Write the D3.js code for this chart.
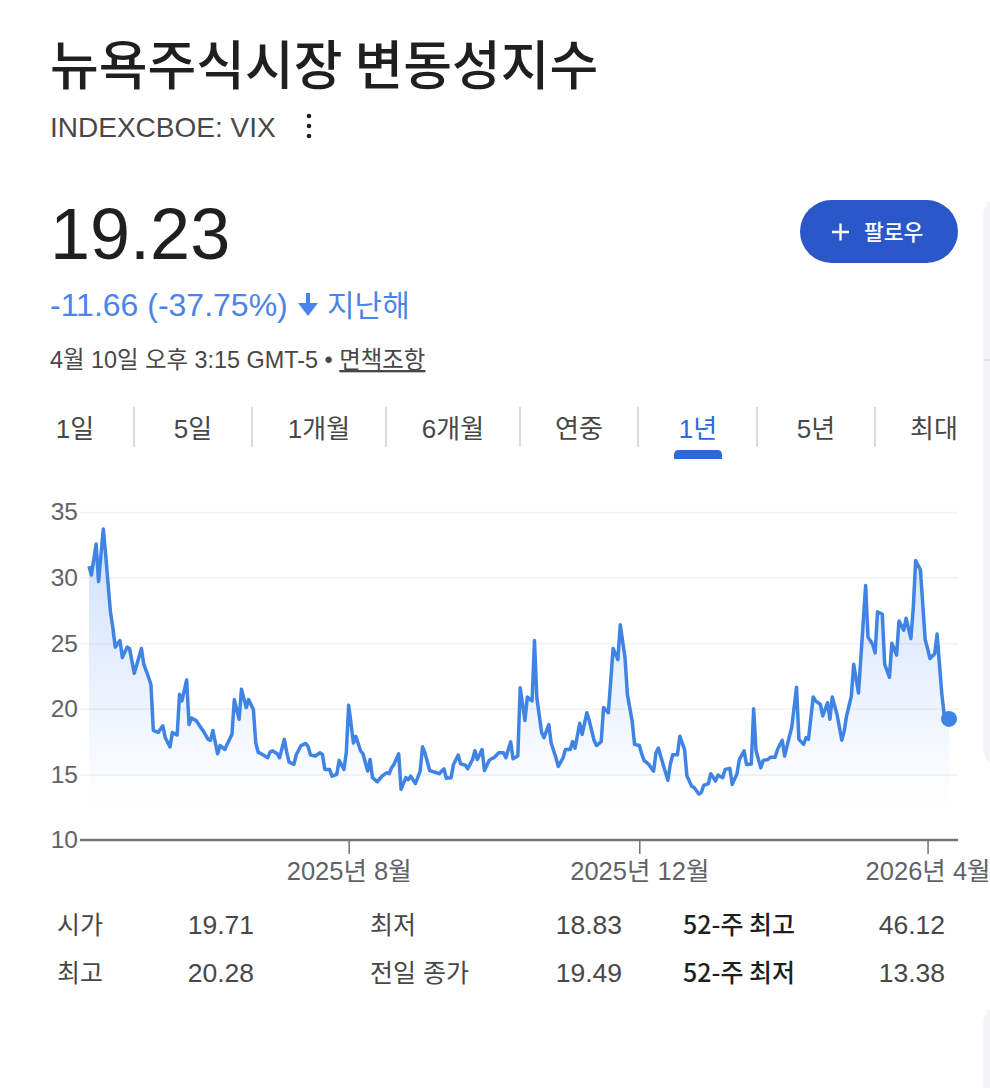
<!DOCTYPE html>
<html>
<head>
<meta charset="utf-8">
<script src="https://cdn.jsdelivr.net/npm/d3@7"></script>
<style>
  html, body { margin: 0; padding: 0; background: #fff; }
  svg { display: block; }
  text { font-family: "Liberation Sans", Arial, "Noto Sans CJK KR", sans-serif; }
</style>
</head>
<body>
<div id="chart"></div>
<script>
// 날짜 (x축)
const dates = [
  "2025-04-14","2025-04-15","2025-04-17","2025-04-18","2025-04-20","2025-04-21","2025-04-22","2025-04-23","2025-04-24","2025-04-25","2025-04-27","2025-04-28","2025-04-30",
  "2025-05-01","2025-05-03","2025-05-06","2025-05-07","2025-05-09","2025-05-10","2025-05-11","2025-05-13","2025-05-15","2025-05-16","2025-05-18","2025-05-19","2025-05-21","2025-05-22","2025-05-23","2025-05-25","2025-05-26","2025-05-27","2025-05-29","2025-05-31",
  "2025-06-01","2025-06-03","2025-06-04","2025-06-05","2025-06-07","2025-06-08","2025-06-10","2025-06-11","2025-06-13","2025-06-14","2025-06-16","2025-06-17","2025-06-19","2025-06-20","2025-06-22","2025-06-23","2025-06-24","2025-06-26","2025-06-28","2025-06-29","2025-06-30",
  "2025-07-02","2025-07-03","2025-07-05","2025-07-06","2025-07-07","2025-07-09","2025-07-10","2025-07-12","2025-07-14","2025-07-15","2025-07-16","2025-07-18","2025-07-20","2025-07-21","2025-07-22","2025-07-24","2025-07-25","2025-07-27","2025-07-28","2025-07-30","2025-07-31",
  "2025-08-01","2025-08-03","2025-08-04","2025-08-06","2025-08-07","2025-08-09","2025-08-10","2025-08-11","2025-08-13","2025-08-15","2025-08-17","2025-08-18","2025-08-19","2025-08-20","2025-08-22","2025-08-23","2025-08-25","2025-08-26","2025-08-27","2025-08-29","2025-08-31",
  "2025-09-01","2025-09-02","2025-09-04","2025-09-06","2025-09-07","2025-09-08","2025-09-10","2025-09-11","2025-09-13","2025-09-14","2025-09-16","2025-09-17","2025-09-19","2025-09-20","2025-09-22","2025-09-23","2025-09-24","2025-09-26","2025-09-27","2025-09-29","2025-09-30",
  "2025-10-01","2025-10-03","2025-10-05","2025-10-06","2025-10-08","2025-10-09","2025-10-11","2025-10-12","2025-10-14","2025-10-15","2025-10-17","2025-10-18","2025-10-19","2025-10-21","2025-10-22","2025-10-24","2025-10-25","2025-10-27","2025-10-28","2025-10-30","2025-10-31",
  "2025-11-02","2025-11-03","2025-11-04","2025-11-06","2025-11-07","2025-11-09","2025-11-10","2025-11-12","2025-11-13","2025-11-15","2025-11-16","2025-11-18","2025-11-19","2025-11-20","2025-11-22","2025-11-23","2025-11-25","2025-11-26","2025-11-28","2025-11-29",
  "2025-12-01","2025-12-02","2025-12-03","2025-12-05","2025-12-07","2025-12-08","2025-12-09","2025-12-11","2025-12-13","2025-12-14","2025-12-15","2025-12-17","2025-12-18","2025-12-20","2025-12-21","2025-12-23","2025-12-24","2025-12-26","2025-12-27","2025-12-28","2025-12-30","2025-12-31",
  "2026-01-02","2026-01-03","2026-01-05","2026-01-06","2026-01-08","2026-01-09","2026-01-11","2026-01-12","2026-01-14","2026-01-15","2026-01-17","2026-01-18","2026-01-19","2026-01-21","2026-01-22","2026-01-24","2026-01-25","2026-01-27","2026-01-28","2026-01-30","2026-01-31",
  "2026-02-02","2026-02-03","2026-02-05","2026-02-06","2026-02-08","2026-02-09","2026-02-10","2026-02-12","2026-02-13","2026-02-15","2026-02-16","2026-02-18","2026-02-19","2026-02-20","2026-02-22","2026-02-24","2026-02-25","2026-02-26","2026-02-28",
  "2026-03-01","2026-03-03","2026-03-04","2026-03-06","2026-03-07","2026-03-09","2026-03-10","2026-03-11","2026-03-13","2026-03-14","2026-03-16","2026-03-17","2026-03-19","2026-03-20","2026-03-22","2026-03-23","2026-03-25","2026-03-26","2026-03-27","2026-03-29","2026-03-31",
  "2026-04-01","2026-04-02","2026-04-04","2026-04-05","2026-04-07","2026-04-08","2026-04-10"
];
// VIX 값
const vix = [
  30.86,30.2,32.56,29.7,33.7,31.75,29.5,27.4,26.2,24.7,25.2,23.9,24.7,
  24.6,22.7,24.6,23.4,22.4,21.85,18.35,18.2,18.7,17.8,17.1,18.2,18.0,21.1,20.6,22.2,18.8,19.3,19.1,18.55,
  18.3,17.67,17.6,18.35,16.57,17.2,16.9,17.3,18.05,20.7,19.2,21.5,20.1,20.7,19.95,17.4,16.7,16.5,16.27,16.7,16.8,
  16.57,16.27,17.67,16.7,15.94,15.76,16.5,17.2,17.36,17.1,16.47,16.4,16.65,16.5,15.38,15.38,14.87,15.0,16.07,15.38,16.65,
  20.28,17.4,17.9,16.8,16.57,15.25,16.14,14.75,14.44,14.87,15.13,15.05,15.5,15.76,16.57,13.86,14.75,14.6,14.87,14.3,15.25,
  17.1,16.65,15.3,15.18,15.13,15.05,15.43,14.7,14.75,15.76,16.47,15.8,15.7,15.43,16.14,16.8,16.14,16.9,15.3,16.07,16.2,
  16.27,16.65,16.65,16.27,17.48,16.2,16.4,21.6,19.1,20.9,20.6,25.2,20.8,18.2,17.8,18.8,17.4,16.27,15.6,16.27,16.9,
  16.9,17.5,17.0,18.9,18.05,19.7,19.1,17.6,17.2,17.5,20.1,19.7,22.1,24.6,23.75,26.4,23.9,21.1,19.06,17.3,
  17.2,16.57,16.07,15.76,15.25,16.65,17.0,15.76,14.55,15.76,16.5,16.5,17.9,16.9,14.87,14.1,14.0,13.5,13.6,14.16,14.3,15.05,
  14.5,14.95,14.75,15.38,15.46,14.24,15.05,16.14,16.8,15.76,15.8,20.0,16.8,15.5,16.07,16.14,16.3,16.3,16.9,17.6,16.4,
  17.9,18.6,21.65,17.67,17.3,17.8,17.67,20.9,20.6,20.33,19.45,20.46,19.2,20.9,19.57,17.6,18.3,19.45,20.96,
  23.4,21.2,23.9,29.4,25.46,24.9,24.26,27.4,27.2,23.4,22.4,25.0,24.1,26.7,26.0,26.9,25.35,27.7,31.3,30.6,25.28,
  24.6,23.83,24.2,25.7,21.1,19.5,19.23
];
const yTicks = [10, 15, 20, 25, 30, 35];
const xTickDates = ["2025-08-01", "2025-12-01", "2026-04-01"];
const xTickLabels = ["2025년 8월", "2025년 12월", "2026년 4월"];
const tabs = ["1일", "5일", "1개월", "6개월", "연중", "1년", "5년", "최대"];
const activeTab = "1년";
const statLabels = [["시가", "최고"], ["최저", "전일 종가"], ["52-주 최고", "52-주 최저"]];
const statValues = [["19.71", "20.28"], ["18.83", "19.49"], ["46.12", "13.38"]];

const W = 990, H = 1088;
const parse = d3.timeParse("%Y-%m-%d");
const data = dates.map((d, i) => ({date: parse(d), value: vix[i]}));

const svg = d3.select("#chart").append("svg").attr("width", W).attr("height", H);

// 오른쪽 가장자리 패널
svg.append("rect").attr("x", 983).attr("y", 192).attr("width", 60).attr("height", 580)
  .attr("rx", 26).attr("fill", "#f3f4f6");
svg.append("line").attr("x1", 984).attr("x2", 990).attr("y1", 360).attr("y2", 360)
  .attr("stroke", "#dadce0").attr("stroke-width", 1.5);
svg.append("rect").attr("x", 983).attr("y", 1000).attr("width", 60).attr("height", 200)
  .attr("rx", 26).attr("fill", "#f3f4f6");

// 제목
svg.append("text").attr("x", 50).attr("y", 85)
  .style("font-family", "'Noto Sans CJK KR', sans-serif")
  .attr("font-size", 53).attr("font-weight", 500).attr("fill", "#1f1f1f")
  .text("뉴욕주식시장 변동성지수");
svg.append("text").attr("x", 50).attr("y", 137)
  .attr("font-size", 28).attr("fill", "#474747").text("INDEXCBOE: VIX");
[116, 126, 136].forEach(cy => {
  svg.append("circle").attr("cx", 309).attr("cy", cy).attr("r", 2.3).attr("fill", "#1f1f1f");
});

// 가격
svg.append("text").attr("x", 50).attr("y", 259)
  .attr("font-size", 72).attr("fill", "#1f1f1f").text("19.23");
const chgColor = "#4a84ea";
svg.append("text").attr("x", 50).attr("y", 316)
  .attr("font-size", 32).attr("fill", chgColor).text("-11.66 (-37.75%)");
svg.append("line").attr("x1", 308).attr("x2", 308).attr("y1", 293).attr("y2", 308)
  .attr("stroke", chgColor).attr("stroke-width", 4);
svg.append("path").attr("d", "M298,303 L318,303 L308,316 Z").attr("fill", chgColor);
svg.append("text").attr("x", 327).attr("y", 316)
  .attr("font-size", 30).attr("fill", chgColor).text("지난해");

const info = svg.append("text").attr("x", 50).attr("y", 368)
  .attr("font-size", 23.4).attr("fill", "#474747");
info.append("tspan").text("4월 10일 오후 3:15 GMT-5 • ");
info.append("tspan").attr("text-decoration", "underline").text("면책조항");

// 팔로우 버튼
svg.append("rect").attr("x", 800).attr("y", 200).attr("width", 158).attr("height", 63)
  .attr("rx", 31.5).attr("fill", "#2a58c8");
svg.append("path").attr("d", "M832,232 L849,232 M840.5,223.5 L840.5,240.5")
  .attr("stroke", "#fff").attr("stroke-width", 2.4);
svg.append("text").attr("x", 864).attr("y", 240)
  .style("font-family", "'Noto Sans CJK KR', sans-serif")
  .attr("font-size", 21.5).attr("font-weight", 500).attr("fill", "#fff").text("팔로우");

// 기간 탭
const tabCenters = [75, 193, 319, 453, 579, 698, 816, 934];
const dividers = [134, 252, 386, 520, 638, 757, 875];
svg.selectAll("text.tab").data(tabs).enter().append("text")
  .attr("class", "tab")
  .attr("x", (d, i) => tabCenters[i]).attr("y", 438)
  .attr("text-anchor", "middle").attr("font-size", 26)
  .attr("fill", d => d === activeTab ? "#2b6ad9" : "#474747")
  .text(d => d);
svg.selectAll("line.div").data(dividers).enter().append("line")
  .attr("class", "div")
  .attr("x1", d => d).attr("x2", d => d).attr("y1", 407).attr("y2", 447)
  .attr("stroke", "#dadce0").attr("stroke-width", 2);
const ai = tabs.indexOf(activeTab);
svg.append("path")
  .attr("d", `M${tabCenters[ai] - 24},459 L${tabCenters[ai] - 24},455 Q${tabCenters[ai] - 24},450 ${tabCenters[ai] - 19},450 L${tabCenters[ai] + 19},450 Q${tabCenters[ai] + 24},450 ${tabCenters[ai] + 24},455 L${tabCenters[ai] + 24},459 Z`)
  .attr("fill", "#2b6ad9");

// 차트
const left = 80, right = 958;
const x = d3.scaleTime()
  .domain([parse("2025-04-14"), parse("2026-04-10")])
  .range([89, 949]);
const y = d3.scaleLinear().domain([10, 35]).range([840, 512]);

const yAxis = svg.append("g").attr("transform", `translate(${left},0)`)
  .call(d3.axisLeft(y).tickValues(yTicks).tickSize(-(right - left)).tickPadding(2));
yAxis.select(".domain").remove();
yAxis.selectAll(".tick line").attr("stroke", "#f1f1f1").attr("stroke-width", 1.5);
yAxis.selectAll(".tick text").attr("font-size", 24.5).attr("fill", "#5f6368")
  .style("font-family", "'Liberation Sans', Arial, sans-serif");

const defs = svg.append("defs");
const grad = defs.append("linearGradient").attr("id", "areaGrad")
  .attr("gradientUnits", "userSpaceOnUse")
  .attr("x1", 0).attr("x2", 0).attr("y1", y(35)).attr("y2", y(12.5));
grad.append("stop").attr("offset", 0).attr("stop-color", "#4285f4").attr("stop-opacity", 0.27);
grad.append("stop").attr("offset", 1).attr("stop-color", "#4285f4").attr("stop-opacity", 0);

const area = d3.area()
  .x(d => x(d.date)).y0(y(10)).y1(d => y(d.value));
svg.append("path").attr("d", area(data)).attr("fill", "url(#areaGrad)");

const xAxis = svg.append("g").attr("transform", `translate(0,${y(10)})`)
  .call(d3.axisBottom(x)
    .tickValues(xTickDates.map(parse))
    .tickFormat((d, i) => xTickLabels[i])
    .tickSize(14).tickPadding(8));
xAxis.select(".domain").remove();
xAxis.selectAll(".tick line").attr("stroke", "#70757a").attr("stroke-width", 1.5);
xAxis.selectAll(".tick text").attr("font-size", 25.5).attr("fill", "#5f6368")
  .style("font-family", "'Liberation Sans', Arial, 'Noto Sans CJK KR', sans-serif");

svg.append("line").attr("x1", left).attr("x2", right).attr("y1", y(10)).attr("y2", y(10))
  .attr("stroke", "#70757a").attr("stroke-width", 2.5);

const lineColor = "#3f84e5";
const line = d3.line().x(d => x(d.date)).y(d => y(d.value));
svg.append("path").attr("d", line(data)).attr("fill", "none")
  .attr("stroke", lineColor).attr("stroke-width", 3.5).attr("stroke-linejoin", "round");

const last = data[data.length - 1];
svg.append("circle").attr("cx", x(last.date)).attr("cy", y(last.value))
  .attr("r", 8).attr("fill", lineColor);

// 통계 표
const colLabelX = [57, 370, 683];
const colValueX = [254, 622, 945];
const rowY = [934, 982];
statLabels.forEach((col, c) => {
  col.forEach((lab, r) => {
    svg.append("text").attr("x", colLabelX[c]).attr("y", rowY[r])
      .style("font-family", c === 2 ? "'Noto Sans CJK KR', sans-serif" : null)
      .attr("font-size", c === 2 ? 25 : 25)
      .attr("font-weight", c === 2 ? 500 : 400)
      .attr("fill", c === 2 ? "#1f1f1f" : "#474747")
      .text(lab);
    svg.append("text").attr("x", colValueX[c]).attr("y", rowY[r])
      .attr("text-anchor", "end").attr("font-size", 26.5).attr("fill", "#474747")
      .text(statValues[c][r]);
  });
});
</script>
</body>
</html>
